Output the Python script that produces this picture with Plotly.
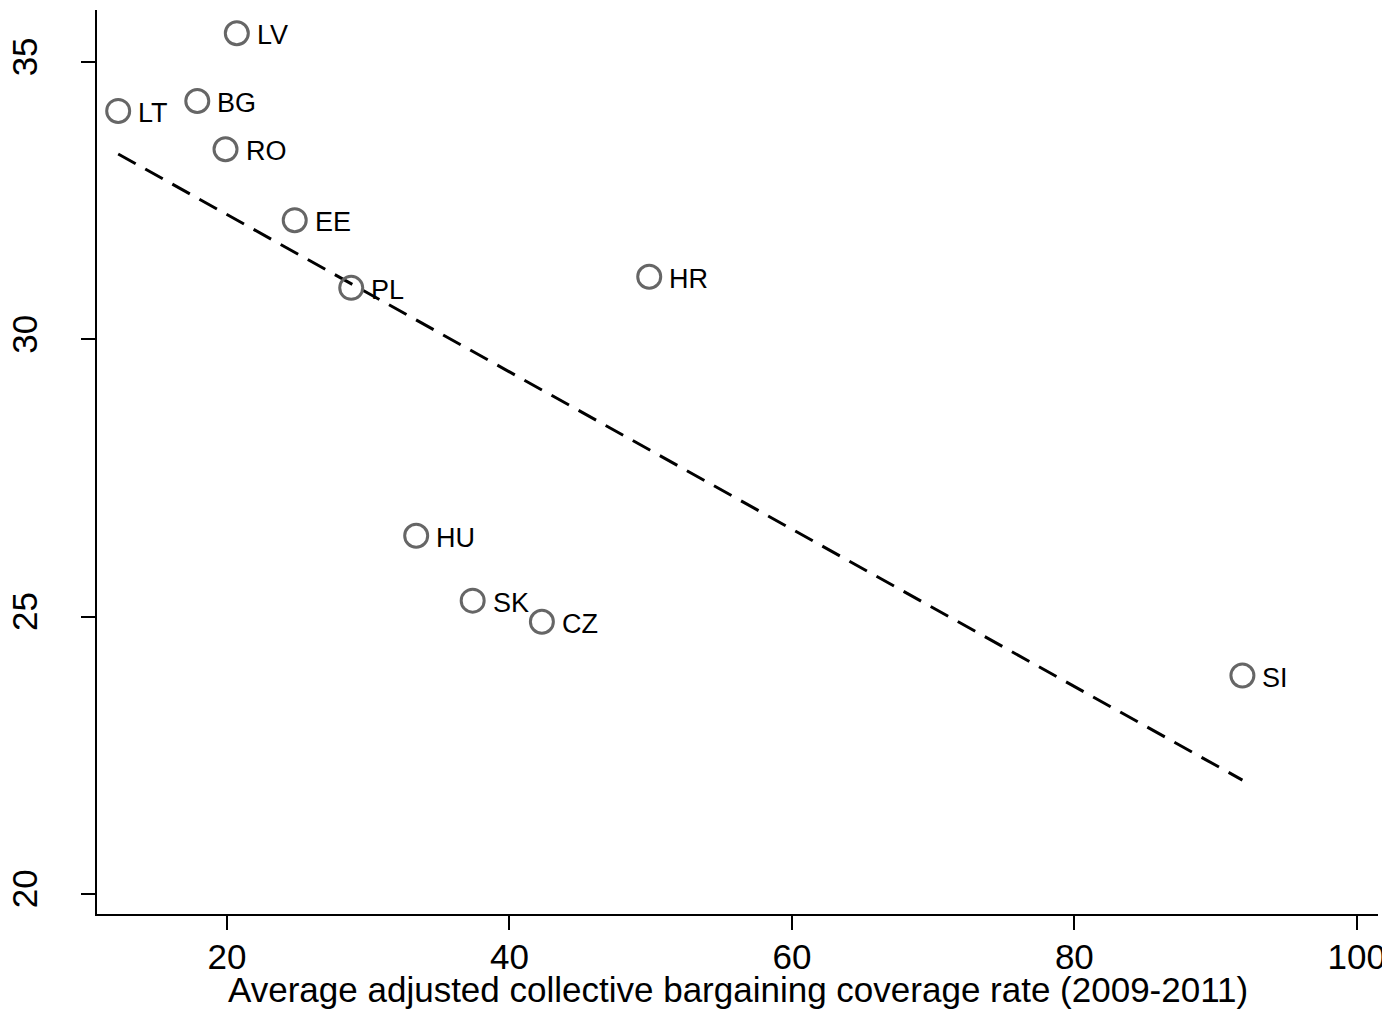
import numpy as np
import plotly.graph_objects as go

countries = ["LV", "LT", "BG", "RO", "EE", "PL", "HR", "HU", "SK", "CZ", "SI"]
coverage = [20.7, 12.3, 17.9, 19.9, 24.8, 28.8, 49.9, 33.4, 37.4, 42.3, 91.9]
inequality = [35.52, 34.12, 34.30, 33.43, 32.15, 30.93, 31.13, 26.46, 25.29, 24.91, 23.94]

x_ticks = [20, 40, 60, 80, 100]
y_ticks = [20, 25, 30, 35]
x_title = "Average adjusted collective bargaining coverage rate (2009-2011)"

# OLS fitted line from the data
slope, intercept = np.polyfit(coverage, inequality, 1)
fit_x = [min(coverage), max(coverage)]
fit_y = [slope * v + intercept for v in fit_x]

FONT = "Liberation Sans, Arial, sans-serif"
PAGE_OFFSET = 8  # default body margin of the HTML page
W, H = 1390 - PAGE_OFFSET, 1011 - PAGE_OFFSET
ML, MR, MT, MB = 97 - PAGE_OFFSET, 12, 10 - PAGE_OFFSET, 97
plot_h = H - MT - MB

fig = go.Figure()
fig.add_trace(go.Scatter(
    x=fit_x, y=fit_y, mode="lines",
    line=dict(color="black", width=3, dash="20px,11px"),
    hoverinfo="skip", showlegend=False,
))
fig.add_trace(go.Scatter(
    x=coverage, y=inequality, mode="markers",
    marker=dict(symbol="circle-open", size=23, color="#666666",
                line=dict(width=3, color="#666666")),
    showlegend=False,
))
for cx, cy, name in zip(coverage, inequality, countries):
    fig.add_annotation(
        x=cx, y=cy, text=name, showarrow=False,
        xanchor="left", yanchor="middle", xshift=18, yshift=-2,
        font=dict(family=FONT, size=27, color="black"),
    )

fig.add_annotation(
    x=0.5, y=-54 / plot_h, xref="paper", yref="paper",
    text=x_title, showarrow=False, xanchor="center", yanchor="top",
    font=dict(family=FONT, size=35, color="black"),
)

fig.update_layout(
    width=W, height=H,
    margin=dict(l=ML, r=MR, t=MT, b=MB),
    paper_bgcolor="white", plot_bgcolor="white",
    font=dict(family=FONT, size=35, color="black"),
)
fig.update_xaxes(
    range=[10.8, 101.5], tickvals=x_ticks, ticktext=[str(v) for v in x_ticks],
    showgrid=False, zeroline=False, showline=True, linecolor="black", linewidth=2,
    ticks="outside", ticklen=14, tickwidth=2, tickcolor="black",
    tickfont=dict(size=35), automargin=False, ticklabelstandoff=-3,
)
fig.update_yaxes(
    range=[19.64, 35.94], tickvals=y_ticks, ticktext=[str(v) for v in y_ticks],
    showgrid=False, zeroline=False, showline=True, linecolor="black", linewidth=2,
    ticks="outside", ticklen=14, tickwidth=2, tickcolor="black",
    tickangle=-90, tickfont=dict(size=35), automargin=False, ticklabelstandoff=30,
)

fig.write_html("out.html")
